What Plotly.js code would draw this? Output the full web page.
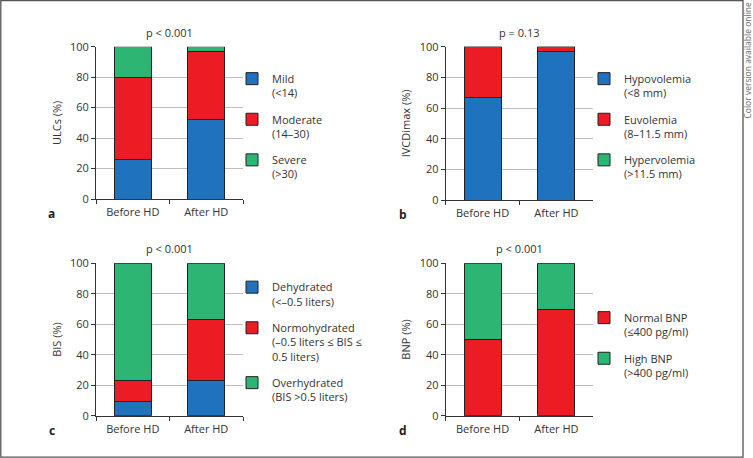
<!DOCTYPE html>
<html><head><meta charset="utf-8">
<script src="https://cdn.plot.ly/plotly-3.0.1.min.js"></script>
<style>html,body{margin:0;padding:0;background:#fff}</style>
</head><body><div id="chart" style="width:753px;height:458px"></div>
<script>
// ---------- data ----------
const categories = ['Before HD', 'After HD'];

const ulcNames = ['Mild<br>(&lt;14)', 'Moderate<br>(14–30)', 'Severe<br>(&gt;30)'];
const ulcMild = [26, 52];
const ulcModerate = [54, 45];
const ulcSevere = [20, 3];

const ivcNames = ['Hypovolemia<br>(&lt;8 mm)', 'Euvolemia<br>(8–11.5 mm)', 'Hypervolemia<br>(&gt;11.5 mm)'];
const ivcHypo = [67, 97];
const ivcEu = [33, 3];
const ivcHyper = [0, 0];

const bisNames = ['Dehydrated<br>(&lt;–0.5 liters)', 'Normohydrated<br>(–0.5 liters ≤ BIS ≤<br>0.5 liters)', 'Overhydrated<br>(BIS &gt;0.5 liters)'];
const bisDehyd = [9.4, 23.2];
const bisNormo = [13.4, 40];
const bisOver = [77.2, 36.8];

const bnpNames = ['Normal BNP<br>(≤400 pg/ml)', 'High BNP<br>(&gt;400 pg/ml)'];
const bnpNormal = [50, 70];
const bnpHigh = [50, 30];

const pTitles = ['p &lt; 0.001', 'p = 0.13', 'p &lt; 0.001', 'p &lt; 0.001'];
const yTitles = ['ULCs (%)', 'IVCDimax (%)', 'BIS (%)', 'BNP (%)'];
const panelLetters = ['a', 'b', 'c', 'd'];

// ---------- style ----------
const W = 753, H = 458;
const BLUE = '#1f72bd', RED = '#ec1c24', GREEN = '#2cb573';
const FONT = 'Open Sans, Noto Sans, sans-serif';
const TXT = '#333333';
const px = x => x / W;
const py = y => 1 - y / H;

function bar(name, vals, color, xa, ya, leg, grp) {
  return {
    type: 'bar', x: categories, y: vals, name: name,
    marker: {color: color, line: {color: '#222', width: 1}},
    xaxis: xa, yaxis: ya, legend: leg, legendgroup: grp,
    hoverinfo: 'skip'
  };
}

const data = [
  bar(ulcNames[0], ulcMild, BLUE, 'x', 'y', 'legend', 'a1'),
  bar(ulcNames[1], ulcModerate, RED, 'x', 'y', 'legend', 'a2'),
  bar(ulcNames[2], ulcSevere, GREEN, 'x', 'y', 'legend', 'a3'),
  bar(ivcNames[0], ivcHypo, BLUE, 'x2', 'y2', 'legend2', 'b1'),
  bar(ivcNames[1], ivcEu, RED, 'x2', 'y2', 'legend2', 'b2'),
  bar(ivcNames[2], ivcHyper, GREEN, 'x2', 'y2', 'legend2', 'b3'),
  bar(bisNames[0], bisDehyd, BLUE, 'x3', 'y3', 'legend3', 'c1'),
  bar(bisNames[1], bisNormo, RED, 'x3', 'y3', 'legend3', 'c2'),
  bar(bisNames[2], bisOver, GREEN, 'x3', 'y3', 'legend3', 'c3'),
  bar(bnpNames[0], bnpNormal, RED, 'x4', 'y4', 'legend4', 'd1'),
  bar(bnpNames[1], bnpHigh, GREEN, 'x4', 'y4', 'legend4', 'd2')
];

// plot-area pixel boxes [left, right, top(100), bottom(0)]
const boxes = [
  [96, 243, 46.7, 199],
  [445.7, 593.3, 46.7, 200],
  [96, 243, 263.3, 415.7],
  [445.7, 593.3, 263.3, 415.7]
];

const layout = {
  width: W, height: H,
  margin: {l: 0, r: 0, t: 0, b: 0, autoexpand: false},
  paper_bgcolor: '#fff', plot_bgcolor: 'rgba(0,0,0,0)',
  font: {family: FONT, size: 11, color: TXT},
  barmode: 'stack', bargap: 0.5,
  showlegend: true,
  annotations: [], shapes: []
};

boxes.forEach((b, i) => {
  const s = i === 0 ? '' : String(i + 1);
  layout['xaxis' + s] = {
    domain: [px(b[0]), px(b[1])], anchor: 'y' + s,
    type: 'category', range: [-0.5, 1.5],
    tickson: 'boundaries', ticks: 'outside', ticklen: 4, tickcolor: '#333',
    showline: true, linecolor: '#333', linewidth: 1,
    showgrid: false, zeroline: false, ticklabelstandoff: 3,
    tickfont: {size: 11, color: TXT}, fixedrange: true
  };
  layout['yaxis' + s] = {
    domain: [py(b[3]), py(b[2])], anchor: 'x' + s,
    range: [0, 100], dtick: 20, tick0: 0,
    ticks: 'outside', ticklen: 4, tickcolor: '#333',
    showline: true, linecolor: '#333', linewidth: 1,
    showgrid: true, gridcolor: '#bdbdbd', gridwidth: 1, zeroline: false,
    tickfont: {size: 11, color: TXT},
    automargin: 'left',
    title: {text: yTitles[i], font: {size: 11, color: TXT}, standoff: 6},
    fixedrange: true
  };
  layout.annotations.push({
    text: pTitles[i], xref: 'paper', yref: 'paper',
    x: px((b[0] + b[1]) / 2), y: py(b[2] - 14.5), xanchor: 'center', yanchor: 'middle',
    showarrow: false, font: {size: 11, color: TXT}
  });
  layout.annotations.push({
    text: '<b>' + panelLetters[i] + '</b>', xref: 'paper', yref: 'paper',
    x: px(i % 2 === 0 ? 52 : 403), y: py(b[3] + 14.5), xanchor: 'center', yanchor: 'middle',
    showarrow: false, font: {size: 12, color: '#222'}
  });
});

const legendBase = {
  xanchor: 'left', yanchor: 'top', valign: 'top',
  traceorder: 'grouped', tracegroupgap: 9,
  bgcolor: 'rgba(0,0,0,0)', borderwidth: 0,
  font: {size: 11, color: TXT}
};
layout.legend = Object.assign({}, legendBase, {x: px(232), y: py(65)});
layout.legend2 = Object.assign({}, legendBase, {x: px(584), y: py(65)});
layout.legend3 = Object.assign({}, legendBase, {x: px(232), y: py(273.5)});
layout.legend4 = Object.assign({}, legendBase, {x: px(584), y: py(304)});

// figure border
layout.shapes.push({
  type: 'rect', xref: 'paper', yref: 'paper',
  x0: px(0.8), x1: px(743), y0: py(457.2), y1: py(0.6),
  line: {color: '#555', width: 1.3}, fillcolor: 'rgba(0,0,0,0)'
});
layout.annotations.push({
  text: 'Color version available online', xref: 'paper', yref: 'paper',
  x: px(747.5), y: py(1), xanchor: 'center', yanchor: 'top', textangle: -90,
  showarrow: false, font: {size: 8.5, color: '#666'}
});

Plotly.newPlot('chart', data, layout, {displayModeBar: false, staticPlot: true});
</script></body></html>
